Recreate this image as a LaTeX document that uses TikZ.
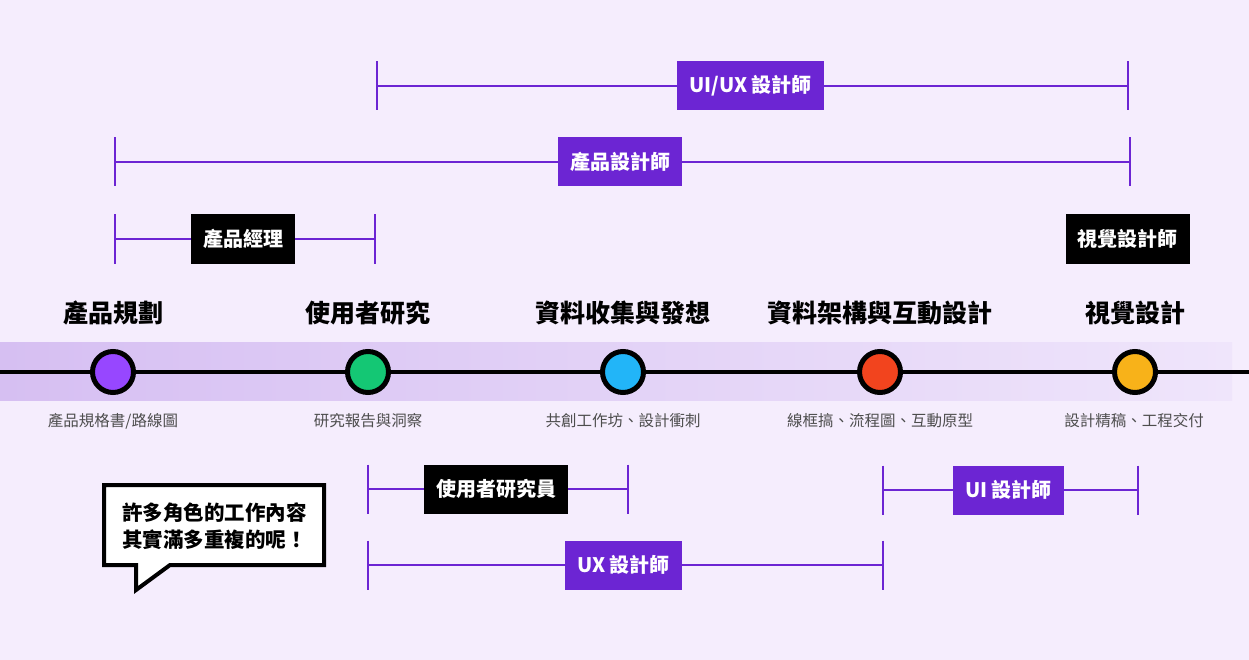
\documentclass[tikz,border=0pt]{standalone}
\usepackage{fontspec}
\setmainfont{Noto Sans CJK TC}
\usetikzlibrary{calc}
\definecolor{bg}{HTML}{F5EDFD}
\definecolor{band}{HTML}{D6BFF2}
\definecolor{bandend}{HTML}{EFE5FB}
\definecolor{pl}{HTML}{6C25D3}
\definecolor{cpurple}{HTML}{9747FF}
\definecolor{cgreen}{HTML}{14C774}
\definecolor{cblue}{HTML}{22B5F8}
\definecolor{cred}{HTML}{F2441E}
\definecolor{cyellow}{HTML}{F8B219}
\definecolor{subgray}{HTML}{4D4D4D}
\tikzset{
  pline/.style={draw=pl, line width=2.6pt},
  rolebox/.style={fill=pl, text=white, font=\fontsize{20}{24}\selectfont\bfseries, minimum height=49pt, inner xsep=12pt, inner ysep=0pt},
  blackbox/.style={rolebox, fill=black},
  stagedot/.style={circle, draw=black, line width=5pt, minimum size=41pt, inner sep=0pt},
  stagetitle/.style={font=\fontsize{25}{30}\selectfont\bfseries, text=black},
  sublabel/.style={font=\fontsize{15.5}{19}\selectfont, text=subgray},
}
\begin{document}
\begin{tikzpicture}[x=1pt,y=-1pt]
\fill[bg] (0,0) rectangle (1249,660);
\useasboundingbox (0,0) rectangle (1249,660);
% band
\shade[left color=band, middle color=band, right color=bandend] (0,342) rectangle (1232,400);
% timeline
\coordinate (tl0) at (0,372);
\coordinate (tl1) at (1249,372);
\draw[line width=4pt] (tl0) -- (tl1);
% dots
\node[stagedot, fill=cpurple] (d1) at (113,372) {};
\node[stagedot, fill=cgreen] (d2) at (368,372) {};
\node[stagedot, fill=cblue] (d3) at (623,372) {};
\node[stagedot, fill=cred] (d4) at (880,372) {};
\node[stagedot, fill=cyellow] (d5) at (1135,372) {};
% titles
\node[stagetitle] (t1) at (113,313) {產品規劃};
\node[stagetitle] (t2) at (368,313) {使用者研究};
\node[stagetitle] (t3) at (623,313) {資料收集與發想};
\node[stagetitle] (t4) at (880,313) {資料架構與互動設計};
\node[stagetitle] (t5) at (1135,313) {視覺設計};
% sublabels
\node[sublabel] (s1) at (113,421) {產品規格書/路線圖};
\node[sublabel] (s2) at (368,421) {研究報告與洞察};
\node[sublabel] (s3) at (623,421) {共創工作坊、設計衝刺};
\node[sublabel] (s4) at (880,421) {線框搞、流程圖、互動原型};
\node[sublabel] (s5) at (1134,421) {設計精稿、工程交付};
% brackets
% UI/UX
\coordinate (a1) at (377,86); \coordinate (a2) at (1128,86);
\draw[pline] (a1) -- (a2);
\draw[pline] ($(a1)+(0,-24.5)$) -- ($(a1)+(0,24.5)$);
\draw[pline] ($(a2)+(0,-24.5)$) -- ($(a2)+(0,24.5)$);
\node[rolebox] (ra) at (750.5,86) {UI/UX 設計師};
% product designer
\coordinate (b1) at (115,162); \coordinate (b2) at (1130,162);
\draw[pline] (b1) -- (b2);
\draw[pline] ($(b1)+(0,-24.5)$) -- ($(b1)+(0,24.5)$);
\draw[pline] ($(b2)+(0,-24.5)$) -- ($(b2)+(0,24.5)$);
\node[rolebox] (rb) at (620,162) {產品設計師};
% PM
\coordinate (c1) at (115,239); \coordinate (c2) at (375,239);
\draw[pline] (c1) -- (c2);
\draw[pline] ($(c1)+(0,-24.5)$) -- ($(c1)+(0,24.5)$);
\draw[pline] ($(c2)+(0,-24.5)$) -- ($(c2)+(0,24.5)$);
\node[blackbox] (rc) at (243,239) {產品經理};
% visual designer
\node[blackbox] (rd) at (1127.5,239) {視覺設計師};
% researcher
\coordinate (e1) at (368,489); \coordinate (e2) at (628,489);
\draw[pline] (e1) -- (e2);
\draw[pline] ($(e1)+(0,-24.5)$) -- ($(e1)+(0,24.5)$);
\draw[pline] ($(e2)+(0,-24.5)$) -- ($(e2)+(0,24.5)$);
\node[blackbox] (re) at (496,489) {使用者研究員};
% UI designer
\coordinate (f1) at (883,490); \coordinate (f2) at (1138,490);
\draw[pline] (f1) -- (f2);
\draw[pline] ($(f1)+(0,-24.5)$) -- ($(f1)+(0,24.5)$);
\draw[pline] ($(f2)+(0,-24.5)$) -- ($(f2)+(0,24.5)$);
\node[rolebox] (rf) at (1008.5,490) {UI 設計師};
% UX designer
\coordinate (g1) at (368,565); \coordinate (g2) at (883,565);
\draw[pline] (g1) -- (g2);
\draw[pline] ($(g1)+(0,-24.5)$) -- ($(g1)+(0,24.5)$);
\draw[pline] ($(g2)+(0,-24.5)$) -- ($(g2)+(0,24.5)$);
\node[rolebox] (rg) at (623.5,565) {UX 設計師};
% speech bubble
\draw[fill=white, line width=4pt, line join=miter] (104,485) -- (324,485) -- (324,565) -- (170,565) -- (136,590) -- (136,565) -- (104,565) -- cycle;
\node[font=\fontsize{20.5}{27}\selectfont\bfseries, align=center] (bub) at (214.5,526) {許多角色的工作內容\\其實滿多重複的呢！};
\end{tikzpicture}
\end{document}
